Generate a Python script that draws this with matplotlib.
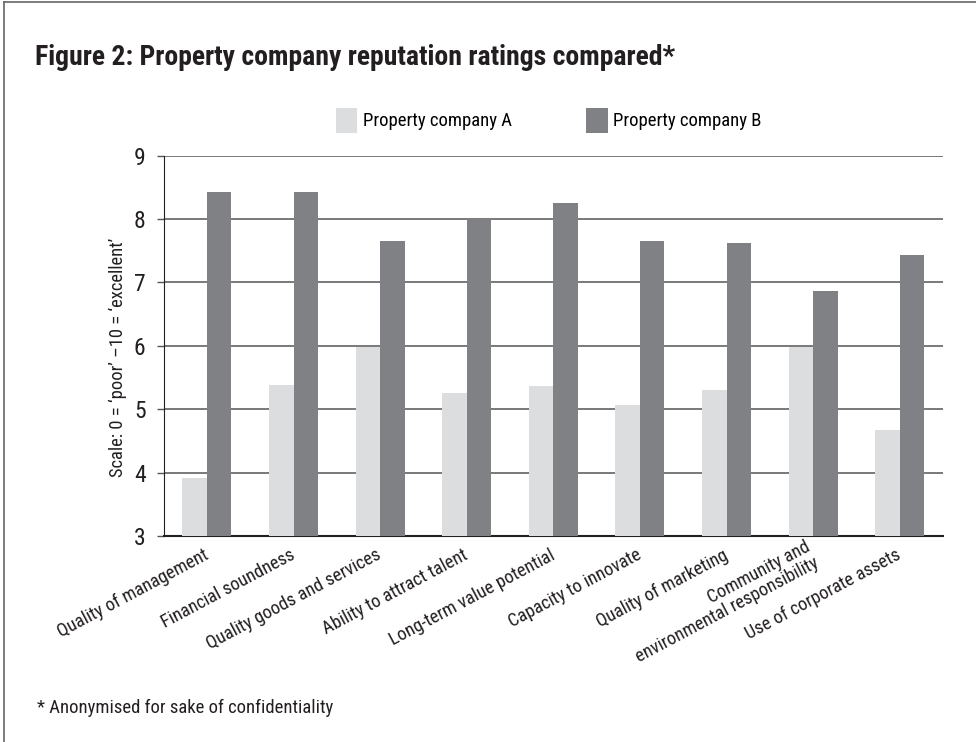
import numpy as np
import matplotlib
matplotlib.use("Agg")
import matplotlib.pyplot as plt
from matplotlib.lines import Line2D

# categories and ratings
categories = [
    "Quality of management",
    "Financial soundness",
    "Quality goods and services",
    "Ability to attract talent",
    "Long-term value potential",
    "Capacity to innovate",
    "Quality of marketing",
    "Community and\nenvironmental responsibility",
    "Use of corporate assets",
]
company_a = [3.92, 5.39, 5.98, 5.25, 5.36, 5.06, 5.31, 5.98, 4.67]
company_b = [8.42, 8.42, 7.65, 8.00, 8.26, 7.65, 7.62, 6.87, 7.43]
series_names = ["Property company A", "Property company B"]

yticks = [3, 4, 5, 6, 7, 8, 9]

plt.rcParams["font.family"] = ["Roboto Condensed", "IBM Plex Sans Condensed", "DejaVu Sans"]

color_a = "#dcdddf"
color_b = "#808184"
grid_color = "#555555"
text_color = "#231f20"

fig = plt.figure(figsize=(9.76, 7.42), dpi=100)
ax = fig.add_axes([0.1677, 0.2776, 0.7985, 0.5126])

x = np.arange(len(categories))
w = 0.283
ax.bar(x - w / 2, company_a, width=w, color=color_a, zorder=3, label=series_names[0])
ax.bar(x + w / 2, company_b, width=w, color=color_b, zorder=3, label=series_names[1])

ax.set_ylim(3, 9)
ax.set_xlim(-0.5, len(categories) - 0.5)
ax.set_yticks(yticks)
ax.set_yticklabels([str(t) for t in yticks], fontsize=17, color=text_color)
ax.yaxis.grid(True, color=grid_color, linewidth=1.1, zorder=0)
ax.tick_params(axis="y", length=5, width=1.0, color=grid_color, pad=8)
ax.tick_params(axis="x", length=0, pad=13)

ax.set_xticks(x)
ax.set_xticklabels(categories, rotation=28, ha="right", va="center",
                   rotation_mode="anchor", fontsize=13.2, color=text_color,
                   linespacing=1.0)

for side in ["top", "right"]:
    ax.spines[side].set_visible(False)
ax.spines["left"].set_color(text_color)
ax.spines["bottom"].set_color(text_color)
ax.spines["bottom"].set_linewidth(1.5)

ax.set_ylabel("Scale: 0 = \u2018poor\u2019 \u201310 = \u2018excellent\u2019",
              fontsize=13.3, color=text_color)
ax.yaxis.set_label_coords(-0.047, 0.47)

fig.legend(loc="center left", bbox_to_anchor=(0.344, 0.838), ncol=2, frameon=False,
           fontsize=13.5, handlelength=1.15, handleheight=1.65, handletextpad=0.3,
           columnspacing=3.95, borderaxespad=0, borderpad=0)

fig.text(0.036, 0.912, "Figure 2: Property company reputation ratings compared*",
         fontsize=20, fontweight="bold", color=text_color, va="baseline")
fig.text(0.038, 0.039, "* Anonymised for sake of confidentiality",
         fontsize=13.4, color=text_color, va="baseline")

# thin frame around the figure (only top and left visible in the reference)
fig.add_artist(Line2D([0.004, 0.004], [0.0, 0.997], color="#666666", linewidth=1.2,
                      transform=fig.transFigure))
fig.add_artist(Line2D([0.004, 1.0], [0.997, 0.997], color="#666666", linewidth=1.2,
                      transform=fig.transFigure))

fig.savefig("out.png", dpi=100)
